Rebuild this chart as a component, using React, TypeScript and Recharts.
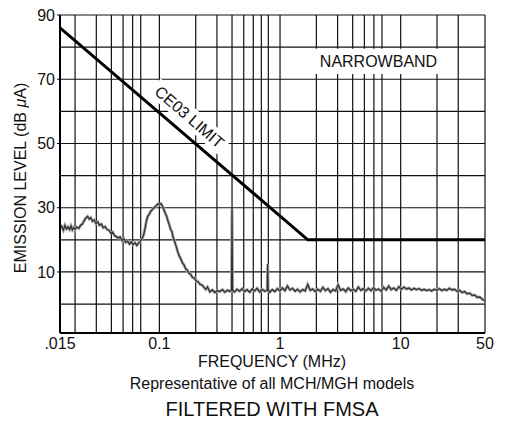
import {
  ComposedChart,
  Line,
  XAxis,
  YAxis,
  CartesianGrid,
  ReferenceArea,
  ReferenceDot,
  Label,
} from "recharts";

// measured emission trace (MHz, dB uA)
const emissionFreq = [
  0.015, 0.0155, 0.016, 0.0165, 0.017, 0.0175, 0.018, 0.0185, 0.019, 0.0195,
  0.02, 0.0207, 0.0215, 0.0223, 0.023, 0.0238, 0.0246, 0.0254, 0.0262, 0.027,
  0.0279, 0.0288, 0.0298, 0.0308, 0.0318, 0.033, 0.0342, 0.0355, 0.0368, 0.0382,
  0.0396, 0.041, 0.0425, 0.044, 0.0456, 0.0472, 0.049, 0.0508, 0.0526, 0.0545,
  0.0565, 0.0585, 0.0606, 0.0628, 0.065, 0.0672, 0.0695, 0.0718, 0.074, 0.076,
  0.078, 0.08, 0.0825, 0.085, 0.0875, 0.09, 0.0925, 0.095, 0.0975, 0.1,
  0.103, 0.106, 0.109, 0.112, 0.115, 0.118, 0.121, 0.124, 0.127, 0.13,
  0.134, 0.138, 0.142, 0.146, 0.15, 0.155, 0.16, 0.165, 0.17, 0.176,
  0.182, 0.188, 0.195, 0.202, 0.21, 0.218, 0.226, 0.234, 0.242, 0.25,
  0.262, 0.275, 0.288, 0.302, 0.317, 0.333, 0.349, 0.366, 0.384, 0.396,
  0.4, 0.404, 0.42, 0.44, 0.462, 0.485, 0.508, 0.533, 0.56, 0.587,
  0.616, 0.646, 0.678, 0.711, 0.746, 0.783, 0.79, 0.797, 0.822, 0.862,
  0.905, 0.95, 0.997, 1.046, 1.098, 1.152, 1.209, 1.269, 1.332, 1.398,
  1.467, 1.54, 1.616, 1.696, 1.78, 1.868, 1.96, 2.057, 2.159, 2.266,
  2.378, 2.496, 2.619, 2.749, 2.885, 3.028, 3.178, 3.335, 3.5, 3.673,
  3.855, 4.046, 4.246, 4.456, 4.677, 4.908, 5.151, 5.406, 5.674, 5.955,
  6.249, 6.559, 6.883, 7.224, 7.582, 7.957, 8.351, 8.764, 9.198, 9.653,
  10.13, 10.63, 11.16, 11.71, 12.29, 12.9, 13.54, 14.21, 14.91, 15.65,
  16.42, 17.24, 18.09, 18.98, 19.92, 20.91, 21.94, 23.03, 24.17, 25.36,
  26.62, 27.93, 29.31, 30.77, 32.29, 33.89, 35.56, 37.32, 39.17, 41.11,
  43.14, 45.28, 47.52, 50,
];
const emissionLevel = [
  23.5, 24.2, 23.0, 24.5, 23.4, 24.0, 23.2, 24.3, 23.1, 23.8,
  23.3, 24.0, 23.6, 24.6, 24.9, 26.0, 26.8, 27.3, 26.5, 26.9,
  25.8, 26.2, 25.1, 25.6, 24.6, 24.9, 23.8, 24.1, 23.2, 23.0,
  22.1, 22.4, 21.3, 21.0, 20.6, 20.9, 19.8, 20.3, 19.2, 19.6,
  18.7, 19.4, 18.5, 19.1, 18.3, 19.0, 19.6, 20.4, 21.5, 23.5,
  25.8, 27.3, 28.0, 29.0, 29.4, 30.0, 30.3, 30.8, 31.2, 31.0,
  31.3, 30.5, 29.4, 28.2, 27.3, 25.8, 24.6, 23.2, 22.6, 20.8,
  19.4, 17.9, 16.3, 15.0, 14.2, 12.9, 12.2, 11.0, 10.6, 9.6,
  9.2, 8.3, 8.1, 7.2, 6.9, 6.1, 5.9, 5.2, 4.6, 5.3,
  3.8, 4.4, 3.6, 4.2, 3.9, 4.5, 3.7, 4.3, 4.0, 4.4,
  29.5, 4.2, 3.8, 4.6, 4.0, 4.8, 3.9, 4.5, 3.7, 4.7,
  4.1, 4.9, 3.8, 4.6, 4.0, 4.3, 12.5, 4.4, 3.7, 4.5,
  3.9, 4.8, 4.1, 5.0, 4.2, 5.6, 4.4, 4.9, 4.0, 4.6,
  3.8, 4.5, 4.1, 6.1, 4.3, 4.7, 3.9, 4.6, 4.0, 5.2,
  4.2, 4.8, 3.7, 4.5, 4.1, 6.0, 4.3, 4.7, 3.9, 5.0,
  4.2, 4.6, 4.0, 5.3, 4.3, 4.8, 4.1, 4.9, 4.2, 5.1,
  4.3, 4.7, 4.0, 5.2, 4.4, 5.6, 4.5, 5.0, 4.3, 5.4,
  4.6, 5.3, 4.7, 5.0, 4.4, 4.9, 4.5, 4.8, 4.3, 4.6,
  4.2, 4.5, 4.1, 4.6, 4.3, 4.8, 4.2, 4.6, 4.3, 4.9,
  4.4, 4.6, 4.0, 4.3, 3.6, 3.9, 3.2, 3.4, 2.7, 2.8,
  2.1, 2.2, 1.5, 1.0,
];

// CE03 narrowband limit
const limitFreq = [0.015, 1.7, 50];
const limitLevel = [86, 20, 20];

const freqTicks = [0.015, 0.1, 1, 10, 50];
const freqTickLabels = [".015", "0.1", "1", "10", "50"];
const levelTicks = [10, 30, 50, 70, 90];

const gridFreqs = [
  0.02, 0.03, 0.04, 0.05, 0.06, 0.07, 0.08, 0.09,
  0.1, 0.2, 0.3, 0.4, 0.5, 0.6, 0.7, 0.8, 0.9,
  1, 2, 3, 4, 5, 6, 7, 8, 9,
  10, 20, 30, 40, 50,
];
const gridLevels = [0, 10, 20, 30, 40, 50, 60, 70, 80, 90];

const emissionData = emissionFreq.map((f, i) => ({ f, level: emissionLevel[i] }));
const limitData = limitFreq.map((f, i) => ({ f, level: limitLevel[i] }));

const FONT = "'Liberation Sans', Arial, Helvetica, sans-serif";

const CeLabel = (props: any) => {
  const { cx, cy } = props;
  return (
    <g transform={`translate(${cx},${cy}) rotate(41)`}>
      <rect x={-47} y={-10} width={94} height={20} fill="#fff" />
      <text
        textAnchor="middle"
        dy="0.36em"
        fontSize={16}
        fontFamily={FONT}
        fill="#111"
      >
        CE03 LIMIT
      </text>
    </g>
  );
};

const YTitle = (props: any) => {
  const { viewBox } = props;
  const x = viewBox.x + 20;
  const y = 178;
  return (
    <text
      x={x}
      y={y}
      transform={`rotate(-90, ${x}, ${y})`}
      textAnchor="middle"
      dominantBaseline="central"
      fontSize={16}
      fontFamily={FONT}
      fill="#111"
    >
      EMISSION LEVEL (dB <tspan fontStyle="italic">μ</tspan>A)
    </text>
  );
};

const captionStyle = (top: number, size: number): React.CSSProperties => ({
  position: "absolute",
  left: 22,
  width: 500,
  top,
  textAlign: "center",
  fontFamily: FONT,
  fontSize: size,
  lineHeight: `${size}px`,
  color: "#111",
  whiteSpace: "nowrap",
});

export default function App() {
  return (
    <div
      style={{
        position: "absolute",
        left: 0,
        top: 0,
        width: 509,
        height: 421,
        background: "#fff",
      }}
    >
      <ComposedChart
        width={509}
        height={421}
        margin={{ top: 15, right: 24, bottom: 58, left: 0 }}
      >
        <CartesianGrid
          verticalValues={gridFreqs}
          horizontalValues={gridLevels}
          stroke="#111"
          strokeWidth={1.2}
        />
        <XAxis
          type="number"
          dataKey="f"
          scale="log"
          domain={[0.015, 50]}
          ticks={freqTicks}
          tickFormatter={(v: number) => freqTickLabels[freqTicks.indexOf(v)] ?? ""}
          allowDataOverflow
          height={30}
          axisLine={{ stroke: "#000", strokeWidth: 2 }}
          tickLine={false}
          tickSize={0}
          tickMargin={5}
          tick={{ fill: "#111", fontSize: 16, fontFamily: FONT }}
        />
        <YAxis
          type="number"
          domain={[-9, 90]}
          ticks={levelTicks}
          allowDataOverflow
          width={60}
          axisLine={{ stroke: "#000", strokeWidth: 2 }}
          tickLine={{ stroke: "#000" }}
          tickSize={3}
          tickMargin={2}
          tick={{ fill: "#111", fontSize: 16, fontFamily: FONT }}
        >
          <Label content={<YTitle />} />
        </YAxis>
        <ReferenceArea
          x1={1.95}
          x2={22}
          y1={71.6}
          y2={79.5}
          fill="#fff"
          fillOpacity={1}
          stroke="none"
        >
          <Label
            value="NARROWBAND"
            position="center"
            fill="#111"
            fontSize={16}
            fontFamily={FONT}
          />
        </ReferenceArea>
        <Line
          data={emissionData}
          dataKey="level"
          stroke="#aaa"
          strokeWidth={3}
          dot={false}
          isAnimationActive={false}
        />
        <Line
          data={emissionData}
          dataKey="level"
          stroke="#333"
          strokeWidth={1.3}
          dot={false}
          isAnimationActive={false}
        />
        <Line
          data={limitData}
          dataKey="level"
          stroke="#000"
          strokeWidth={3}
          dot={false}
          isAnimationActive={false}
        />
        <ReferenceDot x={0.178} y={58.3} r={0} shape={<CeLabel />} />
      </ComposedChart>
      <div style={captionStyle(354, 16)}>FREQUENCY (MHz)</div>
      <div style={captionStyle(376, 16)}>Representative of all MCH/MGH models</div>
      <div style={captionStyle(399, 20)}>FILTERED WITH FMSA</div>
    </div>
  );
}
